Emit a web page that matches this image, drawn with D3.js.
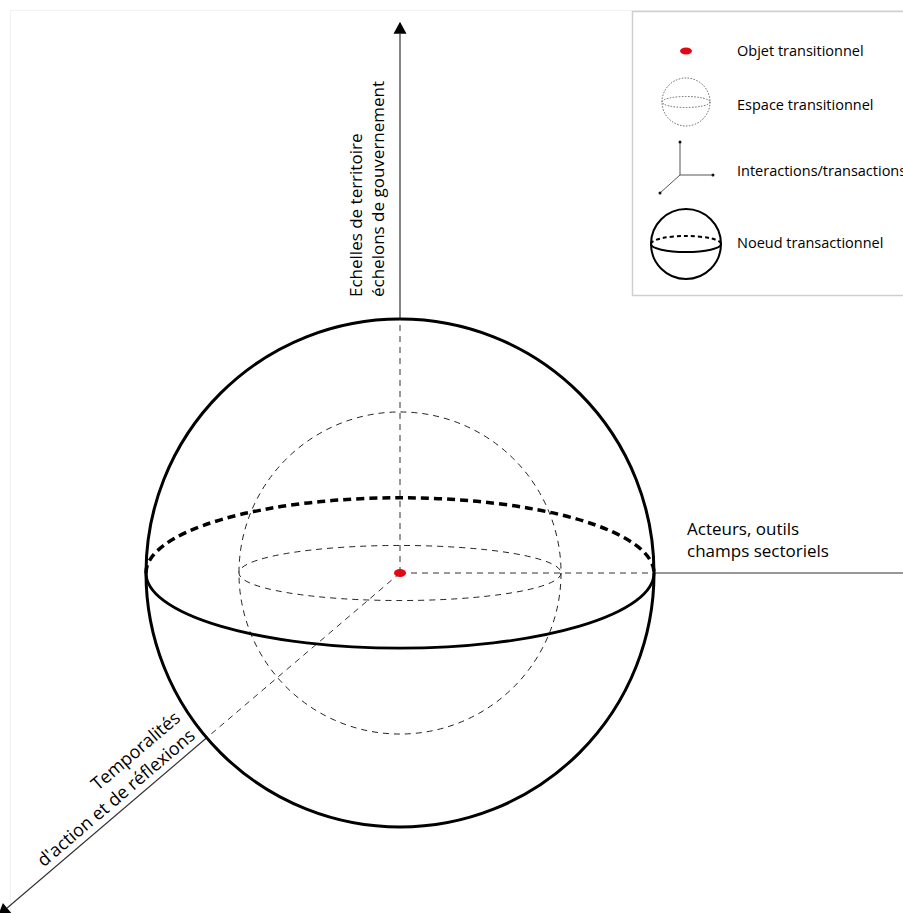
<!DOCTYPE html>
<html><head><meta charset="utf-8">
<script src="https://cdn.jsdelivr.net/npm/d3@7"></script>
<style>html,body{margin:0;padding:0;background:#fff;}svg{display:block;}</style>
</head><body>
<svg id="c" width="903" height="913"></svg>
<script>
// ---- data ----
const legendLabels = ["Objet transitionnel", "Espace transitionnel", "Interactions/transactions", "Noeud transactionnel"];
const labelVertical = ["Echelles de territoire", "échelons de gouvernement"];
const labelHorizontal = ["Acteurs, outils", "champs sectoriels"];
const labelDiagonal = ["Temporalités", "d'action et de réflexions"];
const sphereNames = ["noeud", "espace"];
const sphereRadius = [1, 0.634];          // in units of the outer sphere radius
const equatorFlatness = [0.296, 0.171];   // ry / rx of each equator ellipse
const axisNames = ["vertical", "horizontal", "diagonal"];
const axisLength = [2.17, 2.06, 2.08];    // tip distance from centre, in sphere radii
const axisAngleDeg = [90, 0, 220.45];

// ---- scales ----
const svg = d3.select("#c");
const sx = d3.scaleLinear().domain([-1, 1]).range([146, 654]);
const sy = d3.scaleLinear().domain([-1, 1]).range([827, 319]);
const cx = sx(0), cy = sy(0), R = sx(1) - sx(0);
const FONT = "'Open Sans', 'Noto Sans', sans-serif";

// faint frame
svg.append("rect").attr("x", 10.5).attr("y", 10.5).attr("width", 900).attr("height", 910)
  .attr("fill", "none").attr("stroke", "#f2f2f2").attr("stroke-width", 1);

// ---- axes ----
function arrowHead(g, tipX, tipY, ang, len, half) {
  const ux = Math.cos(ang), uy = Math.sin(ang);
  const bx = tipX - ux * len, by = tipY - uy * len;
  const p = d3.path();
  p.moveTo(tipX, tipY);
  p.lineTo(bx - uy * half, by + ux * half);
  p.lineTo(bx + uy * half, by - ux * half);
  p.closePath();
  g.append("path").attr("d", p.toString()).attr("fill", "#000");
}
const axG = svg.append("g");
axisNames.forEach((n, i) => {
  const a = -axisAngleDeg[i] * Math.PI / 180;
  const ux = Math.cos(a), uy = Math.sin(a);
  const L = axisLength[i] * R;
  const headLen = 12;
  axG.append("line").attr("x1", cx).attr("y1", cy).attr("x2", cx + ux * R).attr("y2", cy + uy * R)
    .attr("stroke", "#333").attr("stroke-width", 1).attr("stroke-dasharray", "6,5");
  axG.append("line").attr("x1", cx + ux * R).attr("y1", cy + uy * R)
    .attr("x2", cx + ux * (L - headLen)).attr("y2", cy + uy * (L - headLen))
    .attr("stroke", "#333").attr("stroke-width", 1.2);
  arrowHead(axG, cx + ux * L, cy + uy * L, a, headLen, 6.5);
});

// ---- spheres ----
const sphG = svg.append("g");
function equatorArc(r, ry, back) {
  return `M${cx - r},${cy} A${r},${ry} 0 0 ${back ? 1 : 0} ${cx + r},${cy}`;
}
{
  const r = sphereRadius[1] * R, ry = r * equatorFlatness[1];
  sphG.append("circle").attr("cx", cx).attr("cy", cy).attr("r", r)
    .attr("fill", "none").attr("stroke", "#222").attr("stroke-width", 1).attr("stroke-dasharray", "6,5");
  sphG.append("ellipse").attr("cx", cx).attr("cy", cy).attr("rx", r).attr("ry", ry)
    .attr("fill", "none").attr("stroke", "#222").attr("stroke-width", 1).attr("stroke-dasharray", "6,5");
}
{
  const r = sphereRadius[0] * R, ry = r * equatorFlatness[0];
  sphG.append("circle").attr("cx", cx).attr("cy", cy).attr("r", r)
    .attr("fill", "none").attr("stroke", "#000").attr("stroke-width", 3);
  sphG.append("path").attr("d", equatorArc(r, ry, true))
    .attr("fill", "none").attr("stroke", "#000").attr("stroke-width", 3.5).attr("stroke-dasharray", "8,5");
  sphG.append("path").attr("d", equatorArc(r, ry, false))
    .attr("fill", "none").attr("stroke", "#000").attr("stroke-width", 2.8);
}
svg.append("ellipse").attr("cx", cx).attr("cy", cy).attr("rx", 6).attr("ry", 4).attr("fill", "#e30613");

// ---- axis labels ----
const lblStyle = s => s.attr("font-family", FONT).attr("font-size", 17).attr("fill", "#000");
const tv = svg.append("text").attr("transform", `translate(0,297) rotate(-90)`).call(lblStyle);
labelVertical.forEach((t, i) => tv.append("tspan").attr("x", 0).attr("y", 362 + i * 22).text(t));

const th = svg.append("text").call(lblStyle);
labelHorizontal.forEach((t, i) => th.append("tspan").attr("x", 687).attr("y", 535 + i * 22).text(t));

{
  const a = -axisAngleDeg[2] * Math.PI / 180;
  const d = 1.03 * R;
  const px = cx + Math.cos(a) * d, py = cy + Math.sin(a) * d;
  const rot = -(axisAngleDeg[2] - 180);
  const td = svg.append("text").attr("transform", `translate(${px},${py}) rotate(${rot})`)
    .attr("text-anchor", "end").call(lblStyle).attr("font-size", 18);
  labelDiagonal.forEach((t, i) => td.append("tspan").attr("x", 0).attr("y", -30 + i * 23).text(t));
}

// ---- legend ----
const lg = svg.append("g");
lg.append("rect").attr("x", 632.5).attr("y", 11.5).attr("width", 290).attr("height", 284)
  .attr("fill", "#fff").attr("stroke", "#cfcfcf").attr("stroke-width", 1.5);
const legendY = [56, 110, 176, 248];
lg.selectAll("text.leg").data(legendLabels).enter().append("text").attr("class", "leg")
  .attr("x", 737).attr("y", (d, i) => legendY[i])
  .attr("font-family", FONT).attr("font-size", 14.5).attr("fill", "#000").text(d => d);
lg.append("ellipse").attr("cx", 686).attr("cy", 51).attr("rx", 6).attr("ry", 3.5).attr("fill", "#e30613");
lg.append("circle").attr("cx", 686).attr("cy", 102).attr("r", 24).attr("fill", "none")
  .attr("stroke", "#555").attr("stroke-width", 0.9).attr("stroke-dasharray", "1.5,1.5");
lg.append("ellipse").attr("cx", 686).attr("cy", 102).attr("rx", 24).attr("ry", 5.5).attr("fill", "none")
  .attr("stroke", "#555").attr("stroke-width", 0.9).attr("stroke-dasharray", "1.5,1.5");
{
  const o = [680, 175];
  const ends = [[680, 142], [713, 175], [660, 193]];
  ends.forEach(e => {
    lg.append("line").attr("x1", o[0]).attr("y1", o[1]).attr("x2", e[0]).attr("y2", e[1])
      .attr("stroke", "#444").attr("stroke-width", 0.9);
    lg.append("circle").attr("cx", e[0]).attr("cy", e[1]).attr("r", 1.5).attr("fill", "#111");
  });
}
{
  const x0 = 686, y0 = 244, r = 35, ry = 8;
  lg.append("circle").attr("cx", x0).attr("cy", y0).attr("r", r).attr("fill", "none")
    .attr("stroke", "#000").attr("stroke-width", 2);
  lg.append("path").attr("d", `M${x0 - r},${y0} A${r},${ry} 0 0 1 ${x0 + r},${y0}`).attr("fill", "none")
    .attr("stroke", "#000").attr("stroke-width", 2).attr("stroke-dasharray", "4,3");
  lg.append("path").attr("d", `M${x0 - r},${y0} A${r},${ry} 0 0 0 ${x0 + r},${y0}`).attr("fill", "none")
    .attr("stroke", "#000").attr("stroke-width", 2);
}
</script>
</body></html>
